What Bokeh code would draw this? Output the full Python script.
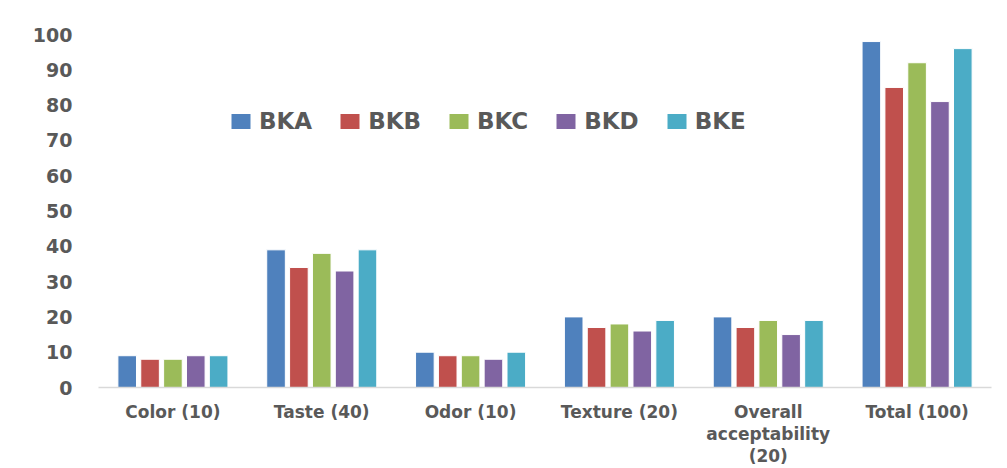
from bokeh.plotting import figure
from bokeh.models import ColumnDataSource, FactorRange, Range1d, FixedTicker, Legend, LegendItem
from bokeh.transform import dodge
from bokeh.embed import file_html
from bokeh.resources import INLINE

categories = ["Color (10)", "Taste (40)", "Odor (10)", "Texture (20)",
              "Overall\nacceptability\n(20)", "Total (100)"]
series = ["BKA", "BKB", "BKC", "BKD", "BKE"]
BKA = [9, 39, 10, 20, 20, 98]
BKB = [8, 34, 9, 17, 17, 85]
BKC = [8, 38, 9, 18, 19, 92]
BKD = [9, 33, 8, 16, 15, 81]
BKE = [9, 39, 10, 19, 19, 96]
colors = ["#4F81BD", "#C0504D", "#9BBB59", "#8064A2", "#4BACC6"]
y_ticks = [0, 10, 20, 30, 40, 50, 60, 70, 80, 90, 100]

source = ColumnDataSource(dict(cat=categories, BKA=BKA, BKB=BKB, BKC=BKC, BKD=BKD, BKE=BKE))

p = figure(width=1000, height=468, x_range=FactorRange(*categories, range_padding=0),
           y_range=Range1d(0, 100), output_backend="svg", toolbar_location=None,
           min_border_left=98, min_border_right=9, min_border_top=34, min_border_bottom=80)
p.outline_line_color = None
p.xgrid.grid_line_color = None
p.ygrid.grid_line_color = None
p.background_fill_color = "white"
p.border_fill_color = "white"

pitch = 0.1536
width = 0.125
items = []
for i, (name, col) in enumerate(zip(series, colors)):
    r = p.vbar(x=dodge("cat", (i - 2) * pitch, range=p.x_range), top=name, width=width,
               source=source, fill_color=col, line_color="white", line_width=1)
    items.append(LegendItem(label=name, renderers=[r]))

tick_color = "#595959"
p.yaxis.ticker = FixedTicker(ticks=y_ticks)
p.yaxis.axis_line_color = None
p.yaxis.major_tick_line_color = None
p.yaxis.minor_tick_line_color = None
p.yaxis.major_tick_out = 0
p.yaxis.major_label_standoff = 26
p.yaxis.major_label_text_font = "DejaVu Sans"
p.yaxis.major_label_text_font_style = "bold"
p.yaxis.major_label_text_font_size = "19px"
p.yaxis.major_label_text_color = tick_color

p.xaxis.axis_line_color = "#D9D9D9"
p.xaxis.axis_line_width = 1.5
p.xaxis.major_tick_line_color = None
p.xaxis.minor_tick_line_color = None
p.xaxis.major_tick_out = 0
p.xaxis.major_label_standoff = 14
p.xaxis.major_label_text_font = "DejaVu Sans"
p.xaxis.major_label_text_font_style = "bold"
p.xaxis.major_label_text_font_size = "17px"
p.xaxis.major_label_text_color = tick_color
p.xaxis.major_label_text_line_height = 1.1

legend = Legend(items=items, orientation="horizontal", location=(130, 253),
                glyph_width=25, glyph_height=20, label_standoff=6, spacing=25,
                padding=0, margin=0, border_line_color=None, background_fill_alpha=0,
                label_text_font="DejaVu Sans", label_text_font_style="bold",
                label_text_font_size="23px", label_text_color=tick_color)
p.add_layout(legend, "center")

open("out.html", "w").write(file_html(p, INLINE))
